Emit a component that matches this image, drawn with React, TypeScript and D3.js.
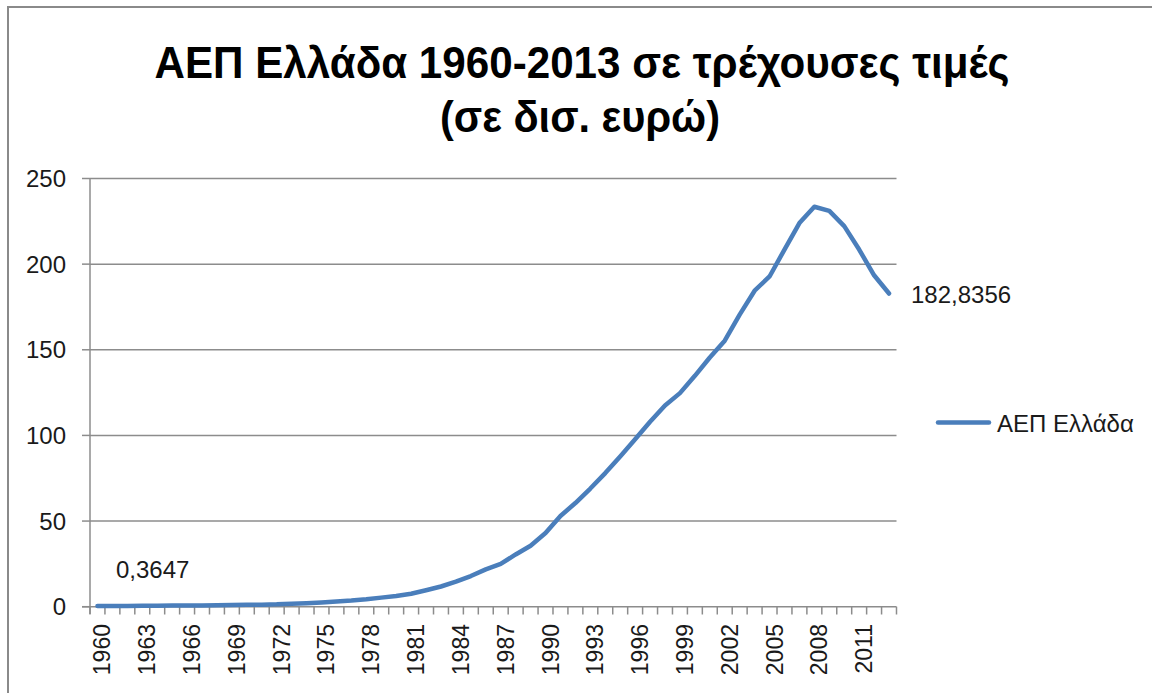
import React from "react";
import * as d3 from "d3";

const titleLines = ["ΑΕΠ Ελλάδα 1960-2013 σε τρέχουσες τιμές", "(σε δισ. ευρώ)"];
const seriesName = "ΑΕΠ Ελλάδα";
const years = [
  "1960","1961","1962","1963","1964","1965","1966","1967","1968","1969",
  "1970","1971","1972","1973","1974","1975","1976","1977","1978","1979",
  "1980","1981","1982","1983","1984","1985","1986","1987","1988","1989",
  "1990","1991","1992","1993","1994","1995","1996","1997","1998","1999",
  "2000","2001","2002","2003","2004","2005","2006","2007","2008","2009",
  "2010","2011","2012","2013",
];
const gdp = [
  0.3647, 0.41, 0.44, 0.49, 0.55, 0.63, 0.7, 0.76, 0.83, 0.95,
  1.07, 1.18, 1.36, 1.76, 2.07, 2.5, 3.1, 3.6, 4.3, 5.3,
  6.3, 7.6, 9.6, 11.8, 14.6, 17.9, 21.8, 25.0, 30.5, 35.6,
  43.0, 53.0, 60.5, 69.0, 78.0, 87.7, 97.8, 108.0, 117.5, 124.7,
  134.8, 145.5, 155.3, 170.5, 184.5, 192.8, 208.5, 224.0, 233.5, 231.1,
  222.2, 208.5, 193.5, 182.8356,
];
const yTicks = [0, 50, 100, 150, 200, 250];
const xLabelYears = ["1960","1963","1966","1969","1972","1975","1978","1981","1984","1987","1990","1993","1996","1999","2002","2005","2008","2011"];

const W = 1152;
const H = 693;
const FONT = "'Liberation Sans', Arial, sans-serif";
const TEXT = "#1a1a1a";
const GRID = "#8c8c8c";
const LINE = "#4a7ebb";

export default function App() {
  const x = d3.scaleBand<string>().domain(years).range([90, 896.5]).padding(0);
  const y = d3.scaleLinear().domain([0, 250]).range([606.7, 178.5]);
  const cx = (yr: string) => (x(yr) as number) + x.bandwidth() / 2;

  const pts = years.map((yr, i) => ({ yr, v: gdp[i] }));
  const line = d3
    .line<{ yr: string; v: number }>()
    .x((d) => cx(d.yr))
    .y((d) => y(d.v));

  const boundaries = years.map((yr) => x(yr) as number).concat([x.range()[1]]);
  const fmt = (v: number) => String(v).replace(".", ",");
  const first = pts[0];
  const last = pts[pts.length - 1];

  return (
    <svg
      width={W}
      height={H}
      style={{ position: "absolute", left: 0, top: 0, background: "#fff" }}
      fontFamily={FONT}
    >
      <rect x={0} y={0} width={W} height={H} fill="#fff" />
      {/* chart border */}
      <path d={`M8,${H} L8,7 L${W},7`} fill="none" stroke="#8a8a8a" strokeWidth={2} />

      {/* title */}
      <text x={582} y={78} textAnchor="middle" fontSize={44} fontWeight="bold" fill="#000"
        textLength={855} lengthAdjust="spacingAndGlyphs">{titleLines[0]}</text>
      <text x={580} y={132} textAnchor="middle" fontSize={44} fontWeight="bold" fill="#000"
        textLength={280} lengthAdjust="spacingAndGlyphs">{titleLines[1]}</text>

      {/* gridlines */}
      {yTicks.filter((t) => t > 0).map((t) => (
        <line key={t} x1={90} x2={896.5} y1={y(t)} y2={y(t)} stroke={GRID} strokeWidth={1.5} />
      ))}
      {/* y axis */}
      <line x1={90} x2={90} y1={y(250)} y2={614} stroke={GRID} strokeWidth={1.5} />
      {yTicks.map((t) => (
        <g key={t}>
          <line x1={82} x2={90} y1={y(t)} y2={y(t)} stroke={GRID} strokeWidth={1.5} />
          <text x={66} y={y(t)} textAnchor="end" dominantBaseline="central" fontSize={24} fill={TEXT}>{t}</text>
        </g>
      ))}
      {/* x axis */}
      <line x1={82} x2={896.5} y1={y(0)} y2={y(0)} stroke={GRID} strokeWidth={1.5} />
      {boundaries.map((b, i) => (
        <line key={i} x1={b} x2={b} y1={y(0)} y2={614.5} stroke={GRID} strokeWidth={1.5} />
      ))}
      {xLabelYears.map((yr) => (
        <text key={yr} transform={`translate(${cx(yr) + 5},624) rotate(-90)`} textAnchor="end"
          dominantBaseline="central" fontSize={23} fill={TEXT}>{yr}</text>
      ))}

      {/* series */}
      <path d={line(pts) || ""} fill="none" stroke={LINE} strokeWidth={4.5} strokeLinejoin="round" strokeLinecap="round" />

      {/* data labels */}
      <text x={116} y={578} fontSize={24} fill={TEXT}>{fmt(first.v)}</text>
      <text x={911} y={303} fontSize={24} fill={TEXT}>{fmt(last.v)}</text>

      {/* legend */}
      <line x1={938} x2={989} y1={422.5} y2={422.5} stroke={LINE} strokeWidth={4.5} strokeLinecap="round" />
      <text x={997} y={423} dominantBaseline="central" fontSize={24} fill={TEXT}>{seriesName}</text>
    </svg>
  );
}
